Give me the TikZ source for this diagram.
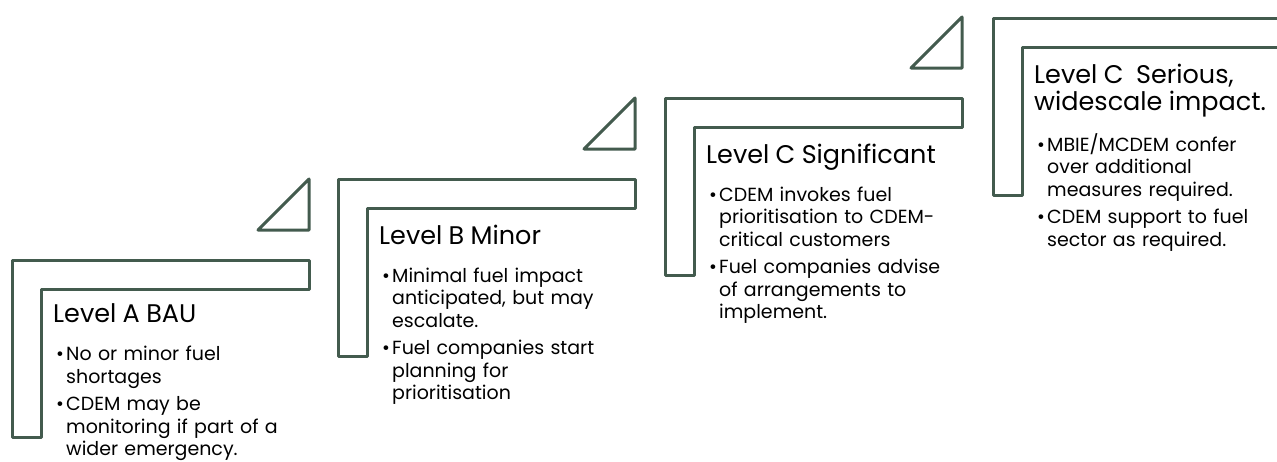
\documentclass[tikz,border=0pt]{standalone}
\usepackage{fontspec}
\setmainfont{Poppins}
\usetikzlibrary{positioning}
\definecolor{stepgreen}{HTML}{435B4E}
\newcommand{\stepbody}{\fontsize{19}{22.5}\selectfont}
\newcommand{\steptitle}[1]{{\fontsize{25.5}{27}\selectfont #1\par}\vspace{15.5pt}}
\newcommand{\steppoint}[1]{\par\hangindent=13pt\hangafter=1\noindent\makebox[13pt][l]{\hspace{3pt}\textbullet}#1\par\vspace{5pt}}
\tikzset{
  stepframe/.style={draw=stepgreen, line width=3pt, line join=round, fill=white},
  steptext/.style={anchor=north west, inner sep=0pt, text width=280pt, align=left, font=\stepbody},
}

\begin{document}
\begin{tikzpicture}[x=1pt, y=-1pt]
\useasboundingbox (0,0) rectangle (1277,461);
\clip (0,0) rectangle (1277,461);

% the four steps: frame, small triangle, inner corner
\foreach \name/\l/\t in {A/12/260, B/338/179, C/665/98, D/993/18}{
  \draw[stepframe] (\l,\t) -- ++(297,0) -- ++(0,29) -- ++(-268,0) -- ++(0,148) -- ++(-29,0) -- cycle;
  \draw[stepframe] (\l+246,\t-30) -- ++(51,0) -- ++(0,-51) -- cycle;
  \coordinate (corner\name) at (\l+29,\t+29);
}

\node[steptext, below right=14.5pt and 12pt of cornerA] (textA) {%
  \steptitle{Level A BAU}
  \steppoint{No or minor fuel\newline shortages}
  \steppoint{CDEM may be\newline monitoring if part of a\newline wider emergency.}};

\node[steptext, below right=16.5pt and 12pt of cornerB] (textB) {%
  \steptitle{Level B Minor}
  \steppoint{Minimal fuel impact\newline anticipated, but may\newline escalate.}
  \steppoint{Fuel companies start\newline planning for\newline prioritisation}};

\node[steptext, below right=16.5pt and 12pt of cornerC] (textC) {%
  \steptitle{Level C Significant}
  \steppoint{CDEM invokes fuel\newline prioritisation to CDEM-\newline critical customers}
  \steppoint{Fuel companies advise\newline of arrangements to\newline implement.}};

\node[steptext, below right=16.5pt and 12pt of cornerD] (textD) {%
  \steptitle{Level C\ \ Serious,\newline widescale impact.}
  \steppoint{MBIE/MCDEM confer\newline over additional\newline measures required.}
  \steppoint{CDEM support to fuel\newline sector as required.}};
\end{tikzpicture}
\end{document}
